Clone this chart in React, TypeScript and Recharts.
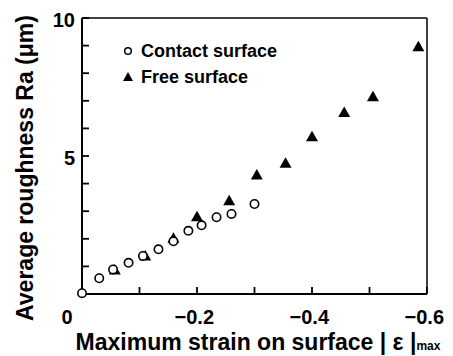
import React from "react";
import {
  ScatterChart,
  Scatter,
  XAxis,
  YAxis,
  ReferenceLine,
  Legend,
  Label,
} from "recharts";

const contactX = [0, -0.03, -0.054, -0.081, -0.106, -0.133, -0.159, -0.185, -0.208, -0.234, -0.26, -0.3];
const contactY = [0.03, 0.57, 0.89, 1.13, 1.38, 1.62, 1.91, 2.29, 2.49, 2.78, 2.9, 3.26];
const freeX = [-0.057, -0.11, -0.159, -0.2, -0.256, -0.304, -0.354, -0.4, -0.456, -0.506, -0.585];
const freeY = [0.87, 1.38, 2.02, 2.8, 3.38, 4.31, 4.74, 5.7, 6.58, 7.15, 8.96];
const xTicks = [0, -0.1, -0.2, -0.3, -0.4, -0.5, -0.6];
const xLabels = [0, -0.2, -0.4, -0.6];
const yTicks = [0, 1, 2, 3, 4, 5, 6, 7, 8, 9, 10];
const yLabels = [5, 10];

const contact = contactX.map((x, i) => ({ x, y: contactY[i] }));
const free = freeX.map((x, i) => ({ x, y: freeY[i] }));

const FONT = "'Liberation Sans', Arial, sans-serif";

const OpenCircle = (p: any) => (
  <circle cx={p.cx} cy={p.cy} r={4.2} fill="#fff" stroke="#000" strokeWidth={1.6} />
);

const Triangle = (p: any) => (
  <path
    d={`M${p.cx},${p.cy - 6} L${p.cx + 6},${p.cy + 4.5} L${p.cx - 6},${p.cy + 4.5} Z`}
    fill="#000"
  />
);

const fmtX = (v: number) => (v === 0 ? "0" : "\u2212" + Math.abs(v).toFixed(1));

// tickSize is negative (inward ticks), tickMargin cancels it so p.x / p.y sit on the axis line
const XTick = (p: any) => {
  const v = p.payload.value;
  if (!xLabels.some((l) => Math.abs(l - v) < 1e-9)) return null;
  const zero = v === 0;
  return (
    <text
      x={zero ? p.x - 15 : p.x + 17}
      y={p.y + 16}
      dy="0.72em"
      textAnchor={zero ? "middle" : "end"}
      fontFamily={FONT}
      fontWeight="bold"
      fontSize={20}
      fill="#000"
    >
      {fmtX(v)}
    </text>
  );
};

const YTick = (p: any) => {
  const v = p.payload.value;
  if (!yLabels.includes(v)) return null;
  return (
    <text
      x={p.x - 7}
      y={p.y + 2}
      dy="0.36em"
      textAnchor="end"
      fontFamily={FONT}
      fontWeight="bold"
      fontSize={20}
      fill="#000"
    >
      {v}
    </text>
  );
};

const LegendBox = (props: any) => (
  <div style={{ fontFamily: FONT, fontWeight: "bold", fontSize: 18, color: "#000", lineHeight: "26px" }}>
    {(props.payload || []).map((e: any) => (
      <div key={e.value} style={{ display: "flex", alignItems: "center" }}>
        <svg width={16} height={12} style={{ marginRight: 5 }}>
          {e.value === "Contact surface" ? (
            <circle cx={8} cy={6} r={3.3} fill="#fff" stroke="#000" strokeWidth={1.5} />
          ) : (
            <path d="M8,1 L13,10 L3,10 Z" fill="#000" />
          )}
        </svg>
        <span>{e.value}</span>
      </div>
    ))}
  </div>
);

export default function App() {
  return (
    <div style={{ position: "absolute", left: 0, top: 0, background: "#fff" }}>
      <ScatterChart width={453} height={356} margin={{ top: 18, right: 26, bottom: 0, left: 0 }}>
        <XAxis
          type="number"
          dataKey="x"
          domain={[-0.6, 0]}
          reversed
          ticks={xTicks}
          height={62}
          stroke="#000"
          strokeWidth={2}
          tickSize={-7}
          tickMargin={7}
          tickLine={{ stroke: "#000", strokeWidth: 1.8 }}
          tick={<XTick />}
        >
          <Label
            content={() => (
              <text x={258} y={350} textAnchor="middle" fontFamily={FONT} fontWeight="bold" fontSize={23} fill="#000">
                Maximum strain on surface | ε |
                <tspan fontSize={12}>max</tspan>
              </text>
            )}
          />
        </XAxis>
        <YAxis
          type="number"
          dataKey="y"
          domain={[0, 10]}
          ticks={yTicks}
          width={82}
          stroke="#000"
          strokeWidth={2}
          tickSize={-7}
          tickMargin={7}
          tickLine={{ stroke: "#000", strokeWidth: 1.8 }}
          tick={<YTick />}
        >
          <Label
            content={() => (
              <text
                x={25}
                y={168}
                transform="rotate(-90 25 168)"
                textAnchor="middle"
                dominantBaseline="central"
                fontFamily={FONT}
                fontWeight="bold"
                fontSize={23}
                fill="#000"
              >
                Average roughness Ra (μm)
              </text>
            )}
          />
        </YAxis>
        {/* frame: top and right edges */}
        <ReferenceLine y={10} stroke="#000" strokeWidth={1.5} ifOverflow="visible" />
        <ReferenceLine x={-0.6} stroke="#000" strokeWidth={1.5} ifOverflow="visible" />
        <Legend
          layout="vertical"
          align="center"
          verticalAlign="middle"
          content={<LegendBox />}
          wrapperStyle={{ left: 120, top: 38, width: "auto" }}
        />
        <Scatter name="Free surface" data={free} shape={Triangle} isAnimationActive={false} legendType="triangle" />
        <Scatter name="Contact surface" data={contact} shape={OpenCircle} isAnimationActive={false} legendType="circle" />
      </ScatterChart>
    </div>
  );
}
